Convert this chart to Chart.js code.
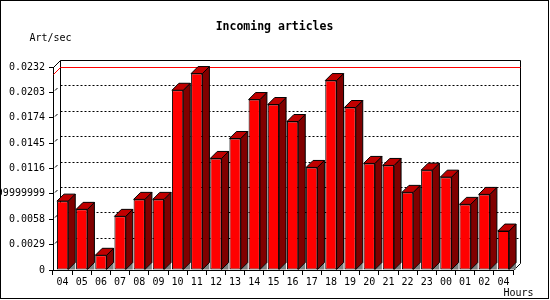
<!DOCTYPE html>
<html>
<head>
<meta charset="utf-8">
<title>Incoming articles</title>
<script src="https://cdn.jsdelivr.net/npm/chart.js@4.4.1/dist/chart.umd.min.js"></script>
<style>
  html, body { margin: 0; padding: 0; background: #fff; }
  canvas { display: block; }
</style>
</head>
<body>
<canvas id="articlesChart" width="550" height="300"></canvas>
<script>
// hour of day (x axis)
const hours = ["04", "05", "06", "07", "08", "09", "10", "11", "12", "13", "14", "15",
               "16", "17", "18", "19", "20", "21", "22", "23", "00", "01", "02", "04"];

// incoming articles per second
const artPerSec = [0.00787, 0.00693, 0.00168, 0.00613, 0.00807, 0.00807, 0.02054, 0.02245,
                   0.01275, 0.01503, 0.01948, 0.01891, 0.01697, 0.01172, 0.02165, 0.01857,
                   0.01218, 0.01195, 0.00887, 0.01141, 0.01061, 0.00750, 0.00864, 0.00445];

// y axis ticks (the 4th label is printed as a long float in the original)
const yTicks = [0, 0.0029, 0.0058, 0.0087, 0.0116, 0.0145, 0.0174, 0.0203, 0.0232];
const yTickLabels = ["0", "0.0029", "0.0058", "0.0086999999999999", "0.0116",
                     "0.0145", "0.0174", "0.0203", "0.0232"];

const FONT = "'DejaVu Sans Mono', monospace";
const DEPTH = 7; // 3d offset of the back plane

// ── draws the fake-3d parts: back wall, dotted grid, max line, bar sides/tops ──
const threeD = {
    id: "threeD",
    beforeDatasetsDraw(chart) {
        const { ctx, chartArea: a, scales: { y } } = chart;
        const bx0 = Math.round(a.left) + DEPTH + 0.5;
        const bx1 = Math.round(a.right) + DEPTH + 0.5;
        const top = Math.round(a.top) - DEPTH + 0.5;
        const floor = Math.round(a.bottom) - DEPTH + 0.5;

        ctx.save();
        ctx.lineWidth = 1;
        ctx.strokeStyle = "#000";

        // dotted grid on the back wall
        ctx.setLineDash([2, 2]);
        yTicks.slice(1, -1).forEach(v => {
            const gy = Math.round(y.getPixelForValue(v)) - DEPTH + 0.5;
            ctx.beginPath();
            ctx.moveTo(bx0, gy);
            ctx.lineTo(bx1, gy);
            ctx.stroke();
        });
        ctx.setLineDash([]);

        // little bits of the grid running over the left wall
        yTicks.slice(1, -1).forEach(v => {
            const ty = Math.round(y.getPixelForValue(v));
            ctx.beginPath();
            ctx.moveTo(a.left + 2, ty - 1.5);
            ctx.lineTo(a.left + 4.5, ty - 4);
            ctx.stroke();
        });

        // back wall outline
        ctx.beginPath();
        ctx.moveTo(bx0, floor);
        ctx.lineTo(bx0, top);
        ctx.lineTo(bx1, top);
        ctx.lineTo(bx1, floor);
        ctx.stroke();
        ctx.beginPath();
        ctx.moveTo(Math.round(a.left) + 0.5, Math.round(a.top) + 0.5);
        ctx.lineTo(bx0, top);
        ctx.moveTo(Math.round(a.right) + 0.5, Math.round(a.bottom) + 0.5);
        ctx.lineTo(bx1, floor);
        ctx.stroke();

        // red line at the maximum
        const my = Math.round(y.getPixelForValue(Math.max(...artPerSec))) + 0.5;
        ctx.strokeStyle = "#ff0000";
        ctx.beginPath();
        ctx.moveTo(Math.round(a.left) + 0.5, my);
        ctx.lineTo(bx0, my - DEPTH);
        ctx.lineTo(bx1, my - DEPTH);
        ctx.stroke();

        // bar sides and tops
        ctx.strokeStyle = "#000";
        chart.getDatasetMeta(0).data.forEach(bar => {
            const { x, y: yt, base, width } = bar.getProps(["x", "y", "base", "width"], true);
            const xl = x - width / 2, xr = x + width / 2;

            // floor shadow
            ctx.fillStyle = "#808080";
            ctx.beginPath();
            ctx.moveTo(xr, base);
            ctx.lineTo(xr + DEPTH, base - DEPTH);
            ctx.lineTo(xr + DEPTH, base);
            ctx.closePath();
            ctx.fill();

            // side
            ctx.fillStyle = "#800000";
            ctx.beginPath();
            ctx.moveTo(xr, yt);
            ctx.lineTo(xr + DEPTH, yt - DEPTH);
            ctx.lineTo(xr + DEPTH, base - DEPTH);
            ctx.lineTo(xr, base);
            ctx.closePath();
            ctx.fill();
            ctx.stroke();

            // top
            ctx.fillStyle = "#c00000";
            ctx.beginPath();
            ctx.moveTo(xl, yt);
            ctx.lineTo(xl + DEPTH, yt - DEPTH);
            ctx.lineTo(xr + DEPTH, yt - DEPTH);
            ctx.lineTo(xr, yt);
            ctx.closePath();
            ctx.fill();
            ctx.stroke();
        });
        ctx.restore();
    },
    afterDraw(chart) {
        const { ctx } = chart;
        ctx.save();
        ctx.fillStyle = "#000";
        ctx.textBaseline = "alphabetic";

        ctx.font = "bold 11.5px " + FONT;
        ctx.textAlign = "center";
        ctx.fillText("Incoming articles", 274.5, 30);

        ctx.font = "10px " + FONT;
        ctx.textAlign = "left";
        ctx.fillText("Art/sec", 29.5, 40.5);
        ctx.fillText("Hours", 503.5, 296);

        // frame round the picture
        ctx.strokeStyle = "#000";
        ctx.lineWidth = 1;
        ctx.strokeRect(0.5, 0.5, 548, 298);
        ctx.restore();
    }
};

new Chart(document.getElementById("articlesChart"), {
    type: "bar",
    data: {
        labels: hours,
        datasets: [{
            label: "Art/sec",
            data: artPerSec,
            backgroundColor: "#ff0000",
            borderColor: "#000",
            borderWidth: 1,
            borderSkipped: false,
            barPercentage: 0.59,
            categoryPercentage: 1
        }]
    },
    options: {
        responsive: false,
        animation: false,
        devicePixelRatio: 1,
        layout: { padding: { left: 0, right: 37, top: 67, bottom: 0 } },
        plugins: {
            legend: { display: false },
            tooltip: { enabled: false },
            title: { display: false }
        },
        scales: {
            x: {
                afterFit: s => { s.height = 30; },
                border: { display: true, color: "#000", width: 1 },
                grid: { drawOnChartArea: false, drawTicks: true, tickLength: 5, color: "#000" },
                ticks: {
                    color: "#000",
                    padding: 1,
                    autoSkip: false,
                    maxRotation: 0,
                    font: { family: FONT, size: 10 }
                }
            },
            y: {
                min: 0,
                max: 0.0232,
                afterFit: s => { s.width = 53; },
                afterBuildTicks: s => { s.ticks = yTicks.map(v => ({ value: v })); },
                border: { display: true, color: "#000", width: 1 },
                grid: { drawOnChartArea: false, drawTicks: true, tickLength: 4, color: "#000" },
                ticks: {
                    color: "#000",
                    padding: 4,
                    autoSkip: false,
                    font: { family: FONT, size: 10 },
                    callback: (v, i) => yTickLabels[i]
                }
            }
        }
    },
    plugins: [threeD]
});
</script>
</body>
</html>
